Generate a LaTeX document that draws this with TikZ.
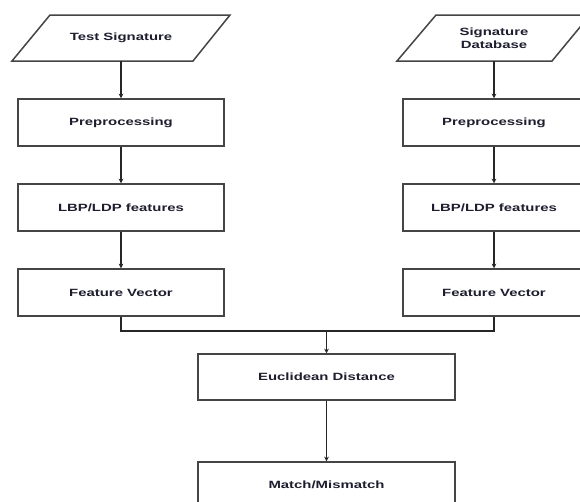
\documentclass[tikz,border=0pt]{standalone}
\usepackage{fontspec}
\setmainfont{Liberation Sans}[BoldFont={* Bold}]
\newfontfamily\boxfont{Liberation Sans Bold}[FakeStretch=1.42]
\usetikzlibrary{arrows.meta}
\definecolor{edgegray}{HTML}{454545}
\definecolor{txtcol}{HTML}{1E1E2E}
\begin{document}
\begin{tikzpicture}[x=1pt,y=-1pt,
  box/.style={draw=edgegray,line width=1.5pt,fill=white,minimum height=47pt,inner sep=0pt,
    font=\boxfont\fontsize{10.5}{13}\selectfont,text=txtcol,align=center},
  lbox/.style={box,minimum width=206pt},
  rbox/.style={box,minimum width=182pt},
  cbox/.style={box,minimum width=257pt,minimum height=46pt},
  io/.style={draw=none,minimum height=46pt,minimum width=10pt,inner sep=0pt,
    font=\boxfont\fontsize{10.5}{13}\selectfont,text=txtcol,align=center},
  para/.style={draw=edgegray,line width=1.5pt,line join=miter},
  conn/.style={draw=black!85,line width=1.2pt,-{Stealth[length=4.5pt,width=4.5pt]}},
  wire/.style={draw=black!85,line width=1.2pt}]
\clip (0,0) rectangle (580,501);
\fill[white] (0,0) rectangle (580,501);
% parallelograms
\draw[para] (12,61) -- (193,61) -- (230,15) -- (50,15) -- cycle;
\draw[para] (397,61) -- (552,61) -- (590,15) -- (436,15) -- cycle;
\node[io] (ts) at (121,38) {Test Signature};
\node[io] (sd) at (494,38) {Signature\\Database};
% left column
\node[lbox] (lp) at (121,122.5) {Preprocessing};
\node[lbox] (ll) at (121,207.5) {LBP/LDP features};
\node[lbox] (lf) at (121,292.5) {Feature Vector};
% right column
\node[rbox] (rp) at (494,122.5) {Preprocessing};
\node[rbox] (rl) at (494,207.5) {LBP/LDP features};
\node[rbox] (rf) at (494,292.5) {Feature Vector};
% center
\node[cbox] (ed) at (326.5,377) {Euclidean Distance};
\node[cbox] (mm) at (326.5,485) {Match/Mismatch};
\coordinate (mj) at (326.5,331);
% connectors
\draw[conn] (ts.south) -- (lp.north);
\draw[conn] (lp.south) -- (ll.north);
\draw[conn] (ll.south) -- (lf.north);
\draw[conn] (sd.south) -- (rp.north);
\draw[conn] (rp.south) -- (rl.north);
\draw[conn] (rl.south) -- (rf.north);
\draw[wire] (lf.south) |- (mj) -| (rf.south);
\draw[conn] (mj) -- (ed.north);
\draw[conn] (ed.south) -- (mm.north);
\end{tikzpicture}
\end{document}
